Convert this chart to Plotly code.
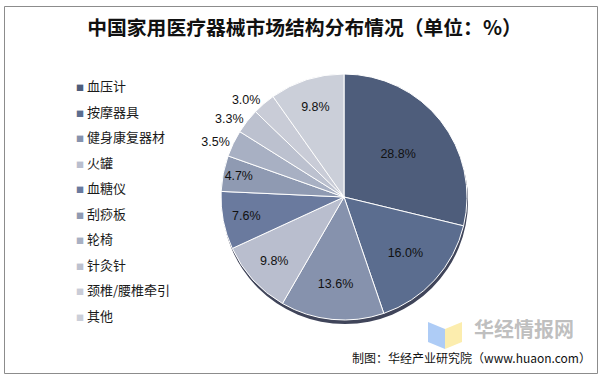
import plotly.graph_objects as go

labels = ["血压计", "按摩器具", "健身康复器材", "火罐", "血糖仪", "刮痧板", "轮椅", "针灸针", "颈椎/腰椎牵引", "其他"]
values = [28.8, 16.0, 13.6, 9.8, 7.6, 4.7, 3.5, 3.3, 3.0, 9.8]
colors = ["#4e5d7b", "#5b6d8f", "#8692ad", "#b9bece", "#6a7a9e", "#8f9ab2", "#a8b0c3", "#bcc1cf", "#c9ccd7", "#cbcfd9"]
text_positions = ["inside", "inside", "inside", "inside", "inside", "inside", "outside", "outside", "outside", "inside"]

title_text = "中国家用医疗器械市场结构分布情况（单位：%）"
source_text = "制图：华经产业研究院（www.huaon.com）"

W, H = 599, 380
cx, cy, r = 344, 197, 123

fig = go.Figure()

# soft shadow disc under the pie
fig.add_trace(go.Pie(
    values=[1], labels=[""], sort=False, textinfo="none", hoverinfo="skip",
    marker=dict(colors=["#40455a"], line=dict(width=0)), showlegend=False,
    domain=dict(x=[(cx - r + 1) / W, (cx + r + 1) / W], y=[1 - (cy + r + 4) / H, 1 - (cy - r + 4) / H]),
))

fig.add_trace(go.Pie(
    labels=labels, values=values, sort=False, direction="clockwise", rotation=0,
    marker=dict(colors=colors, line=dict(color="white", width=1)),
    texttemplate="%{value:.1f}%", textposition=text_positions,
    insidetextorientation="horizontal",
    textfont=dict(family="Liberation Sans, Arial", size=12.5, color="#111111"),
    showlegend=False, hoverinfo="label+percent",
    domain=dict(x=[(cx - r) / W, (cx + r) / W], y=[1 - (cy + r) / H, 1 - (cy - r) / H]),
))

for i, (lab, col) in enumerate(zip(labels, colors)):
    fig.add_trace(go.Scatter(
        x=[None], y=[None], mode="markers", legendgroup=str(i),
        name=f'<span style="color:{col};font-size:8px">■</span> {lab}',
        marker=dict(symbol="square", size=6, color="rgba(0,0,0,0)"), showlegend=True,
    ))

shapes = [
    # outer frame
    dict(type="rect", xref="paper", yref="paper", x0=4.5 / W, x1=597.5 / W,
         y0=1 - 373.5 / H, y1=1 - 6.5 / H, line=dict(color="#8c8c8c", width=1)),
    # watermark logo
    dict(type="path", xref="paper", yref="paper", layer="above",
         path=f"M {428/W} {1-322/H} L {445/W} {1-329/H} L {445/W} {1-349/H} L {428/W} {1-342/H} Z",
         fillcolor="rgba(120,170,240,0.6)", line=dict(width=0)),
    dict(type="path", xref="paper", yref="paper", layer="above",
         path=f"M {445/W} {1-329/H} L {462/W} {1-322/H} L {462/W} {1-342/H} L {445/W} {1-349/H} Z",
         fillcolor="rgba(250,225,120,0.6)", line=dict(width=0)),
]

annotations = [
    dict(text="华经情报网", x=472 / W, y=1 - 328 / H, xref="paper", yref="paper",
         xanchor="left", yanchor="middle", showarrow=False,
         font=dict(family="Noto Sans CJK SC", size=20, color="rgba(170,170,170,0.75)", weight="bold")),
    dict(text=source_text, x=593 / W, y=1 - 357 / H, xref="paper", yref="paper",
         xanchor="right", yanchor="middle", showarrow=False,
         font=dict(family="Noto Sans CJK SC", size=12, color="#111111")),
]

fig.update_layout(
    width=W, height=H, margin=dict(l=0, r=0, t=0, b=0),
    paper_bgcolor="white", plot_bgcolor="rgba(0,0,0,0)",
    title=dict(text=title_text, x=0.5 + 5 / W, xanchor="center", y=1 - 28 / H, yanchor="middle",
               font=dict(family="Noto Sans CJK SC", size=19.8, color="#111111", weight="bold")),
    xaxis=dict(visible=False), yaxis=dict(visible=False),
    legend=dict(x=36 / W, y=1 - 71 / H, xanchor="left", yanchor="top",
                font=dict(family="Noto Sans CJK SC", size=13, color="#1a1a1a"),
                itemwidth=30, tracegroupgap=5.6, bgcolor="rgba(0,0,0,0)"),
    shapes=shapes, annotations=annotations,
)

fig.write_html("out.html", config={"displayModeBar": False})

with open("out.html", encoding="utf-8") as f:
    html = f.read()
html = html.replace("<head>", "<head><style>html,body{margin:0;padding:0;overflow:hidden;}</style>", 1)
with open("out.html", "w", encoding="utf-8") as f:
    f.write(html)
